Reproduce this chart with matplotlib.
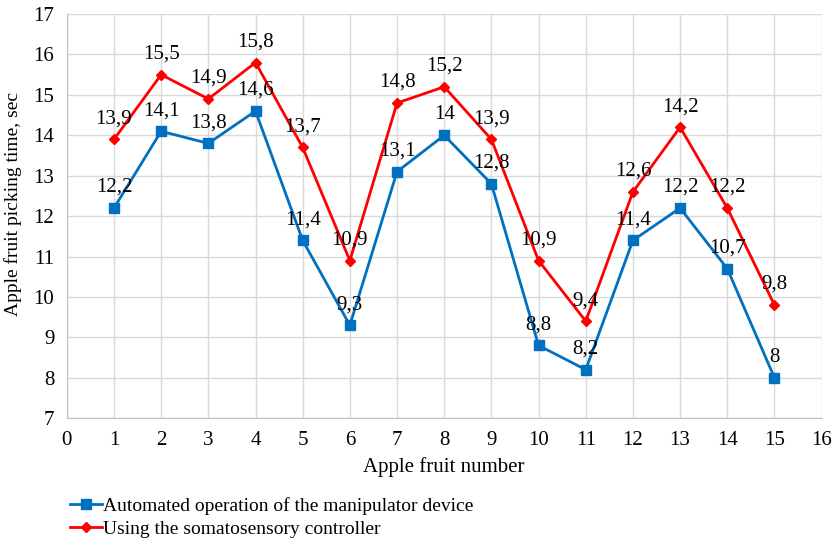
import numpy as np
import matplotlib.pyplot as plt

plt.rcParams['font.family'] = ['Liberation Serif', 'DejaVu Serif']

fruit = [1, 2, 3, 4, 5, 6, 7, 8, 9, 10, 11, 12, 13, 14, 15]
automated = [12.2, 14.1, 13.8, 14.6, 11.4, 9.3, 13.1, 14.0, 12.8, 8.8, 8.2, 11.4, 12.2, 10.7, 8.0]
somatosensory = [13.9, 15.5, 14.9, 15.8, 13.7, 10.9, 14.8, 15.2, 13.9, 10.9, 9.4, 12.6, 14.2, 12.2, 9.8]


def fmt(v):
    s = ('%g' % v)
    return s.replace('.', ',')


fig = plt.figure(figsize=(8.35, 5.41), dpi=100)
ax = fig.add_axes([0.080, 0.227, 0.904, 0.747])

ax.plot(fruit, automated, color='#0070C0', lw=2, marker='s', ms=7,
        label='Automated operation of the manipulator device', zorder=3)
ax.plot(fruit, somatosensory, color='#FF0000', lw=2, marker='D', ms=5,
        label='Using the somatosensory controller', zorder=3)

for x, y in zip(fruit, automated):
    ax.annotate(fmt(y), (x, y), xytext=(0, 8), textcoords='offset points',
                ha='center', va='bottom', fontsize=15)
for x, y in zip(fruit, somatosensory):
    ax.annotate(fmt(y), (x, y), xytext=(0, 8), textcoords='offset points',
                ha='center', va='bottom', fontsize=15)

ax.set_xlim(0, 16)
ax.set_ylim(7, 17)
ax.set_xticks(range(0, 17))
ax.set_yticks(range(7, 18))
ax.grid(True, color='#D9D9D9', lw=1)
ax.set_axisbelow(True)
for side in ['top', 'right']:
    ax.spines[side].set_visible(False)
for side in ['left', 'bottom']:
    ax.spines[side].set_color('#BFBFBF')
ax.tick_params(length=0, labelsize=15, pad=9)

ax.set_xlabel('Apple fruit number', fontsize=15, labelpad=5)
ax.set_ylabel('Apple fruit picking time, sec', fontsize=14)
ax.yaxis.set_label_coords(-0.06, 0.53)

fig.legend(loc='upper left', bbox_to_anchor=(0.075, 0.095), frameon=False,
           fontsize=14, handlelength=1.6, handletextpad=0.1, labelspacing=0.25,
           borderaxespad=0)

fig.savefig('out.png', dpi=100)
